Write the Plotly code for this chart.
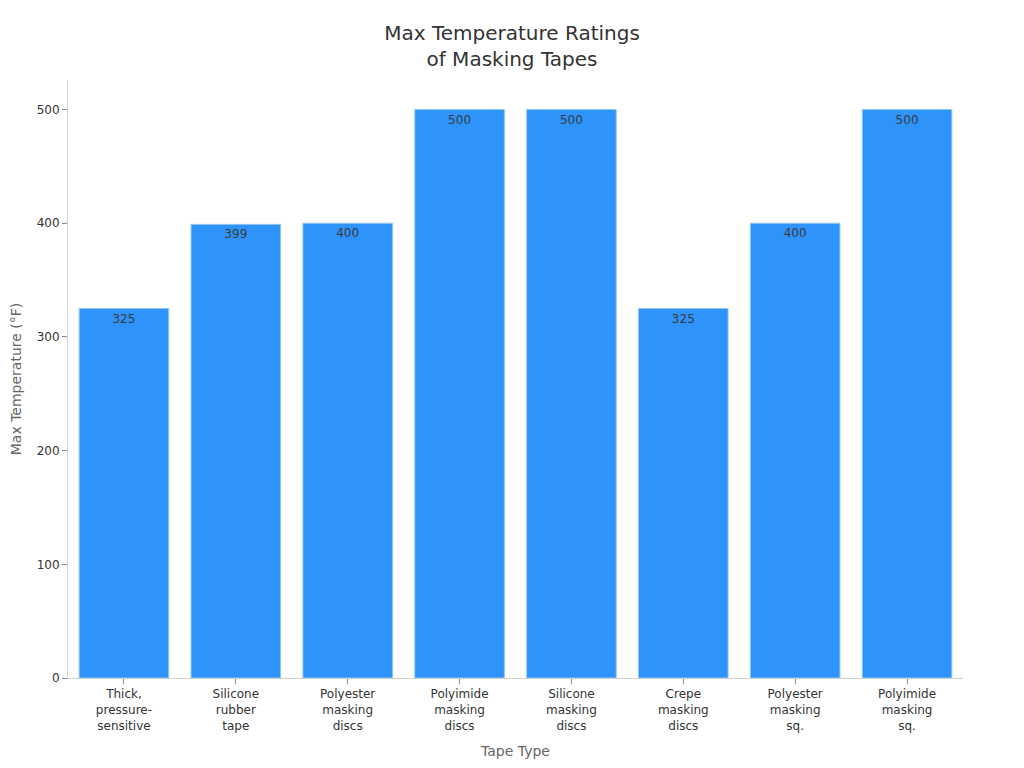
import plotly.graph_objects as go

# Tape types and their max temperature ratings
tape_types = [
    "Thick,<br>pressure-<br>sensitive",
    "Silicone<br>rubber<br>tape",
    "Polyester<br>masking<br>discs",
    "Polyimide<br>masking<br>discs",
    "Silicone<br>masking<br>discs",
    "Crepe<br>masking<br>discs",
    "Polyester<br>masking<br>sq.",
    "Polyimide<br>masking<br>sq.",
]
max_temps = [325, 399, 400, 500, 500, 325, 400, 500]

fig = go.Figure()

fig.add_trace(go.Bar(
    x=tape_types,
    y=max_temps,
    text=max_temps,
    textposition="inside",
    insidetextanchor="end",
    textfont=dict(color="#3a3a3a", size=12),
    marker=dict(color="#2E93FA", line=dict(color="#8EC3F7", width=1)),
    hoverinfo="x+y",
))

fig.update_layout(
    title=dict(text="Max Temperature Ratings<br>of Masking Tapes", x=0.5, y=0.958,
               xanchor="center", font=dict(size=20, color="#333333")),
    font=dict(family="DejaVu Sans, sans-serif", color="#333333", size=12),
    plot_bgcolor="white",
    paper_bgcolor="white",
    bargap=0.2,
    showlegend=False,
    margin=dict(l=60, r=53, t=72, b=82),
    xaxis=dict(
        title=dict(text="Tape Type", font=dict(size=14, color="#666666"), standoff=14),
        automargin=False,
        showline=True, linecolor="#d0d0d0", linewidth=1,
        ticks="outside", tickcolor="#888888", ticklen=5,
        tickfont=dict(size=12, color="#333333"),
        showgrid=False, zeroline=False,
    ),
    yaxis=dict(
        title=dict(text="Max Temperature (°F)", font=dict(size=14, color="#666666"), standoff=19),
        automargin=False,
        range=[0, 526],
        tickvals=[0, 100, 200, 300, 400, 500],
        showline=True, linecolor="#d0d0d0", linewidth=1,
        ticks="outside", tickcolor="#888888", ticklen=5,
        tickfont=dict(size=12, color="#333333"),
        showgrid=False, zeroline=False,
    ),
    uniformtext=dict(minsize=12, mode="show"),
)

fig.write_html("out.html")
